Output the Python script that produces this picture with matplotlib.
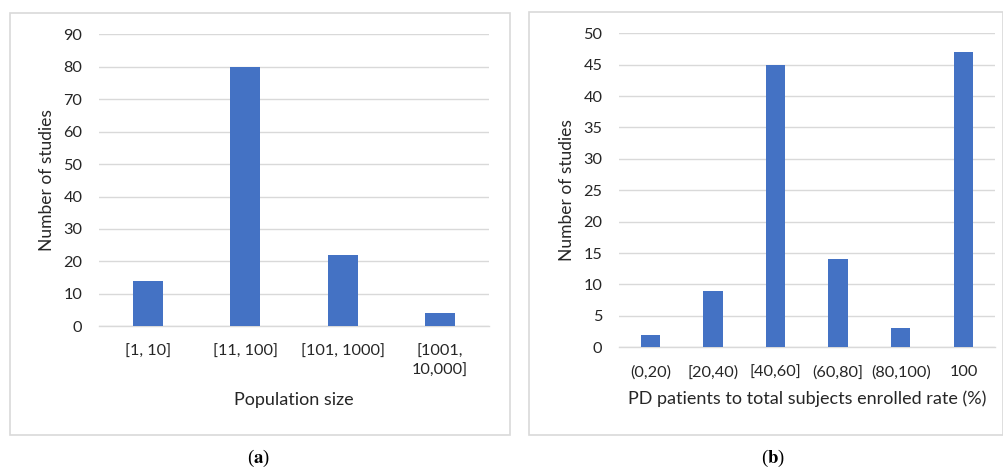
import matplotlib
matplotlib.use("Agg")
import matplotlib.pyplot as plt
from matplotlib.patches import Rectangle

# Data
cats_a = ["[1, 10]", "[11, 100]", "[101, 1000]", "[1001,\n10,000]"]
vals_a = [14, 80, 22, 4]
cats_b = ["(0,20)", "[20,40)", "[40,60]", "(60,80]", "(80,100)", "100"]
vals_b = [2, 9, 45, 14, 3, 47]

W, H = 1004, 469
fig = plt.figure(figsize=(W / 100, H / 100), dpi=100)
plt.rcParams['font.family'] = ['Lato', 'DejaVu Sans']

BAR = "#4472C4"
GRID = "#d9d9d9"
TXT = "#262626"

def px_axes(l, r, t, b):
    return fig.add_axes([l / W, 1 - b / H, (r - l) / W, (b - t) / H])

def style(ax, cats, vals, ymax, step, xlabel, xl_y):
    x = range(len(cats))
    ax.bar(x, vals, width=0.31, color=BAR, zorder=3)
    ax.set_xlim(-0.5, len(cats) - 0.5)
    ax.set_ylim(0, ymax)
    ax.set_yticks(range(0, ymax + 1, step))
    ax.set_xticks(list(x))
    ax.set_xticklabels(cats, fontsize=11.7, color=TXT, linespacing=1.5, va='top')
    ax.tick_params(axis='y', labelsize=11.7, labelcolor=TXT, length=0, pad=12)
    ax.tick_params(axis='x', length=0, pad=13)
    ax.yaxis.grid(True, color=GRID, linewidth=1.0, zorder=0)
    for s in ['top', 'right', 'left']:
        ax.spines[s].set_visible(False)
    ax.spines['bottom'].set_color(GRID)
    ax.spines['bottom'].set_linewidth(1.0)
    ax.set_ylabel("Number of studies", fontsize=12.5, color=TXT)
    ax.set_xlabel(xlabel, fontsize=13, color=TXT)
    ax.xaxis.set_label_coords(0.5, xl_y)
    ax.xaxis.label.set_va('center')

# Panel borders
fig.patches.append(Rectangle((10 / W, 1 - 435 / H), 500 / W, 422 / H,
                             transform=fig.transFigure, fill=False,
                             edgecolor=GRID, linewidth=1.2))
fig.patches.append(Rectangle((529 / W, 1 - 435 / H), 474 / W, 423 / H,
                             transform=fig.transFigure, fill=False,
                             edgecolor=GRID, linewidth=1.2))

ax1 = px_axes(99, 489, 34.3, 326.3)
style(ax1, cats_a, vals_a, 90, 10, "Population size", -0.251)
ax1.yaxis.set_label_coords(-0.133, 0.5)
ax1.yaxis.label.set_va('center')

ax2 = px_axes(619, 994.7, 33.3, 347.3)
style(ax2, cats_b, vals_b, 50, 5, "PD patients to total subjects enrolled rate (%)", -0.165)
ax2.yaxis.set_label_coords(-0.139, 0.5)
ax2.yaxis.label.set_va('center')

# Captions
for x, letter in [(258, "a"), (773, "b")]:
    fig.text(x / W, 1 - 458 / H, "(" + r"$\mathbf{" + letter + r"}$" + ")",
             fontsize=13.5, family=['Liberation Serif', 'DejaVu Serif'],
             ha='center', va='center', color='black',
             math_fontfamily='stix')

fig.savefig("out.png", dpi=100)
